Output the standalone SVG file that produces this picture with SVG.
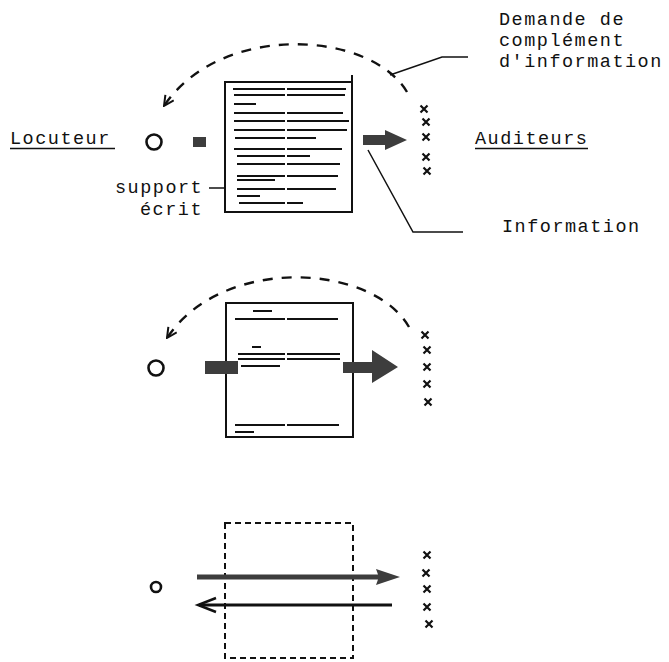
<svg xmlns="http://www.w3.org/2000/svg" width="669" height="662" viewBox="0 0 669 662">
<defs>
<style>
text{font-family:"Liberation Mono","Courier New",monospace;font-size:18.5px;letter-spacing:1.5px;fill:#111}
.doc{fill:none;stroke:#111;stroke-width:2}
.ln{stroke:#111;stroke-width:2;fill:none}
.arc{fill:none;stroke:#111;stroke-width:2.4;stroke-dasharray:10 9}
.lead{fill:none;stroke:#111;stroke-width:1.5}
.x{stroke:#111;stroke-width:2.2;fill:none}
.gray{fill:#3d3d3d}
.circ{fill:none;stroke:#111;stroke-width:2.6}
</style>
<marker id="openv" viewBox="0 0 12 12" refX="11" refY="6" markerWidth="12" markerHeight="12" markerUnits="userSpaceOnUse" orient="auto">
<path d="M1 1 L11 6 L1 11" fill="none" stroke="#111" stroke-width="2"/>
</marker>
<g id="xs">
<path d="M-3.5 -3.5 L3.5 3.5 M3.5 -3.5 L-3.5 3.5"/>
</g>
</defs>
<rect width="669" height="662" fill="#fff"/>

<!-- Diagram 1 -->
<g id="locuteur1">
<text x="10" y="144">Locuteur</text>
<line class="lead" x1="10" y1="148.5" x2="115" y2="148.5"/>
<circle class="circ" cx="154" cy="142" r="7.5"/>
</g>
<g id="support1">
<rect class="gray" x="193" y="137" width="13" height="10"/>
<rect class="doc" x="225" y="82" width="127" height="130"/>
<line class="doc" x1="352" y1="75" x2="352" y2="82"/>
<g class="ln">
<path d="M233 89H285M287 89H346"/>
<path d="M234 95H285M287 95H345"/>
<path d="M234 104H256"/>
<path d="M234 113H285M287 113H343"/>
<path d="M234 121H285M287 121H349"/>
<path d="M234 130H285M287 130H347"/>
<path d="M235 138H285M287 138H316"/>
<path d="M234 149H285M287 149H342"/>
<path d="M237 156H285M287 156H310"/>
<path d="M237 164H285M287 164H340"/>
<path d="M237 176H285M287 176H338"/>
<path d="M237 180H275"/>
<path d="M237 189H285M287 189H336"/>
<path d="M237 196H260"/>
<path d="M239 203H285M287 203H303"/>
</g>
<text x="115" y="193">support</text>
<text x="140" y="215">écrit</text>
<line class="lead" x1="209" y1="188" x2="225" y2="188"/>
</g>
<g id="auditeurs1">
<g class="x">
<use href="#xs" x="424" y="109"/>
<use href="#xs" x="426" y="122"/>
<use href="#xs" x="426" y="137"/>
<use href="#xs" x="426" y="157"/>
<use href="#xs" x="427" y="171"/>
</g>
<text x="475" y="144">Auditeurs</text>
<line class="lead" x1="475" y1="148.5" x2="588" y2="148.5"/>
</g>
<g id="labels1">
<text x="499" y="25">Demande de</text>
<text x="499" y="46">complément</text>
<text x="499" y="67">d'information</text>
<text x="502" y="232">Information</text>
</g>
<g id="connectors1">
<path class="arc" d="M407 92 C370 30 220 22 164 106" marker-end="url(#openv)"/>
<path class="lead" d="M390 75 L442 57 L468 57"/>
<path class="lead" d="M368 150 L413 232 L463 232"/>
<path class="gray" d="M363 135 L385 135 L385 130 L407 140 L385 150 L385 145 L363 145 Z"/>
</g>

<!-- Diagram 2 -->
<g id="locuteur2">
<circle class="circ" cx="156" cy="368" r="7.5"/>
</g>
<g id="support2">
<rect class="doc" x="226" y="303" width="127" height="134"/>
<g class="ln">
<path d="M253 311H272"/>
<path d="M235 319H285M287 319H338"/>
<path d="M252 347H261"/>
<path d="M238 354H285M287 354H340"/>
<path d="M238 359H285M287 359H340"/>
<path d="M241 366H280"/>
<path d="M235 425H285M287 425H339"/>
<path d="M235 432H254"/>
</g>
</g>
<g id="auditeurs2" class="x">
<use href="#xs" x="425" y="335"/>
<use href="#xs" x="427" y="350"/>
<use href="#xs" x="427" y="367"/>
<use href="#xs" x="427" y="384"/>
<use href="#xs" x="428" y="402"/>
</g>
<g id="connectors2">
<path class="arc" d="M409 327 C372 263 222 255 167 338" marker-end="url(#openv)"/>
<rect class="gray" x="205" y="361" width="33" height="13"/>
<path class="gray" d="M343 362 L372 362 L372 350 L398 367 L372 383 L372 373 L343 373 Z"/>
</g>

<!-- Diagram 3 -->
<g id="locuteur3">
<circle class="circ" cx="156" cy="587" r="5"/>
</g>
<g id="support3">
<rect x="225" y="523" width="128" height="135" fill="none" stroke="#111" stroke-width="2" stroke-dasharray="6 4"/>
</g>
<g id="auditeurs3" class="x">
<use href="#xs" x="427" y="555"/>
<use href="#xs" x="426" y="573"/>
<use href="#xs" x="427" y="589"/>
<use href="#xs" x="427" y="607"/>
<use href="#xs" x="429" y="624"/>
</g>
<g id="connectors3">
<path class="gray" d="M197 574.5 L378 574.5 L376 569 L400 577 L376 585 L378 579.5 L197 579.5 Z"/>
<line x1="392" y1="605" x2="199" y2="605" stroke="#111" stroke-width="3"/>
<path d="M216 598 L198 605 L216 612" fill="none" stroke="#111" stroke-width="2.5"/>
</g>
</svg>
